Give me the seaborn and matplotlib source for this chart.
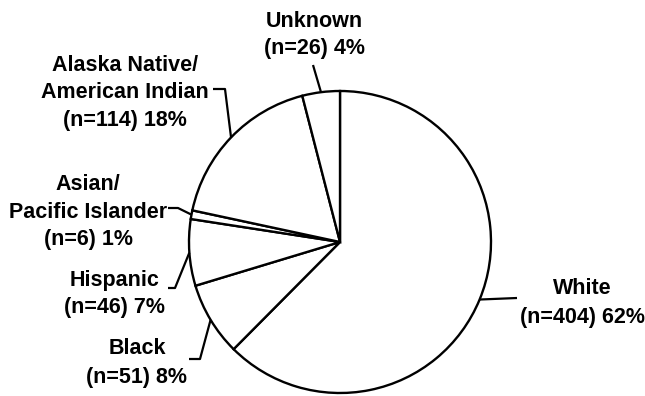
import numpy as np
import matplotlib
matplotlib.use("Agg")
import matplotlib.pyplot as plt
import seaborn as sns

# Patient race/ethnicity breakdown
categories = ["White", "Black", "Hispanic", "Asian/\nPacific Islander",
              "Alaska Native/\nAmerican Indian", "Unknown"]
counts = [404, 51, 46, 6, 114, 26]
percents = [62, 8, 7, 1, 18, 4]

sns.set_theme(style="white")
plt.rcParams["font.family"] = ["Liberation Sans", "DejaVu Sans"]

W, H = 645, 396
fig = plt.figure(figsize=(W / 100, H / 100), dpi=100)
ax = fig.add_axes([0, 0, 1, 1])

center = (340, 242)
radius = 151

# y axis runs top-down, so counterclock in data space is clockwise on screen
wedges, _ = ax.pie(
    counts,
    center=center,
    radius=radius,
    startangle=-90,
    counterclock=True,
    colors=["white"] * len(counts),
    wedgeprops=dict(edgecolor="black", linewidth=1.7),
)
ax.set_xlim(0, W)
ax.set_ylim(H, 0)
ax.set_aspect("equal")
ax.axis("off")

# label text centres, line spacing and leader-line bends (screen pixels)
label_pos = [(582, 303), (137, 363), (115, 294), (88, 212), (125, 93), (314, 35)]
label_spacing = [1.52, 1.52, 1.40, 1.40, 1.40, 1.43]
leader_pts = [
    [(517, 298)],
    [(200, 359), (189, 359)],
    [(175, 288), (168, 288)],
    [(178, 208), (168, 208)],
    [(225, 89), (213, 89)],
    [(313, 65)],
]

for w, cat, n, p, (tx, ty), ls, pts in zip(wedges, categories, counts, percents,
                                           label_pos, label_spacing, leader_pts):
    mid = np.deg2rad((w.theta1 + w.theta2) / 2)
    sx = center[0] + radius * np.cos(mid)
    sy = center[1] + radius * np.sin(mid)
    xs = [sx] + [q[0] for q in pts]
    ys = [sy] + [q[1] for q in pts]
    ax.plot(xs, ys, color="black", lw=1.6, solid_capstyle="butt", zorder=3)
    ax.text(tx, ty, f"{cat}\n(n={n}) {p}%", ha="center", va="center",
            multialignment="center", fontsize=15.5, fontweight="bold",
            linespacing=ls, color="black")

fig.savefig("out.png", dpi=100, facecolor="white")
